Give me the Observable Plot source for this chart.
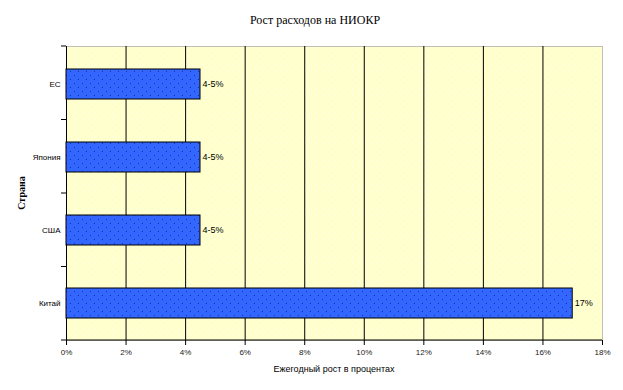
<!DOCTYPE html>
<html>
<head>
<meta charset="utf-8">
<script src="https://cdn.jsdelivr.net/npm/d3@7"></script>
<script src="https://cdn.jsdelivr.net/npm/@observablehq/plot@0.6"></script>
<style>
  html, body { margin: 0; padding: 0; background: #fff; }
  svg { display: block; }
</style>
</head>
<body>
<div id="chart"></div>
<script>
const countries = ["ЕС", "Япония", "США", "Китай"];
const growth = [4.5, 4.5, 4.5, 17];
const valueLabels = ["4-5%", "4-5%", "4-5%", "17%"];
const xTicks = [0, 2, 4, 6, 8, 10, 12, 14, 16, 18];
const title = "Рост расходов на НИОКР";
const xTitle = "Ежегодный рост в процентах";
const yTitle = "Страна";

const data = countries.map((c, i) => ({country: c, value: growth[i], label: valueLabels[i]}));

const plot = Plot.plot({
  width: 623,
  height: 390,
  marginLeft: 66,
  marginRight: 21,
  marginTop: 46,
  marginBottom: 50,
  style: {fontFamily: "Liberation Sans, Arial, sans-serif", background: "#fff"},
  x: {domain: [0, 18], ticks: xTicks, tickFormat: d => d + "%", label: null, tickSize: 5},
  y: {domain: countries, paddingInner: 0.59, paddingOuter: 0.295, label: null, tickSize: 0},
  marks: [
    Plot.frame({fill: "url(#bgdots)", stroke: "#808080", strokeDasharray: "1,1"}),
    Plot.ruleX(xTicks.filter(d => d > 0 && d < 18), {stroke: "#000", strokeWidth: 1}),
    Plot.ruleX([0], {stroke: "#000", strokeWidth: 1}),
    Plot.barX(data, {y: "country", x: "value", fill: "url(#bardots)", stroke: "#000", strokeWidth: 1}),
    Plot.text(data, {y: "country", x: "value", text: "label", textAnchor: "start", dx: 2, fontSize: 9, fill: "#000"}),
    Plot.axisX({ticks: xTicks, tickFormat: d => d + "%", tickSize: 5, fontSize: 8, tickPadding: 4, label: null, stroke: "#000", color: "#222"}),
    Plot.axisY({tickSize: 0, tickPadding: 6, fontSize: 8, label: null, color: "#000"})
  ]
});

document.getElementById("chart").appendChild(plot);

const svg = d3.select(plot);
const defs = svg.insert("defs", ":first-child");
const bg = defs.append("pattern").attr("id", "bgdots").attr("patternUnits", "userSpaceOnUse")
  .attr("width", 6).attr("height", 6);
bg.append("rect").attr("width", 6).attr("height", 6).attr("fill", "#ffffcc");
bg.append("rect").attr("x", 1).attr("y", 1).attr("width", 1).attr("height", 1).attr("fill", "#ffffff");
bg.append("rect").attr("x", 4).attr("y", 4).attr("width", 1).attr("height", 1).attr("fill", "#ffffff");
const bd = defs.append("pattern").attr("id", "bardots").attr("patternUnits", "userSpaceOnUse")
  .attr("width", 8).attr("height", 8);
bd.append("rect").attr("width", 8).attr("height", 8).attr("fill", "#3366ff");
bd.append("rect").attr("x", 2).attr("y", 3).attr("width", 1).attr("height", 1).attr("fill", "#1a3399");
bd.append("rect").attr("x", 6).attr("y", 7).attr("width", 1).attr("height", 1).attr("fill", "#1a3399");

const xs = plot.scale("x");
const ys = plot.scale("y");
const x0 = xs.apply(0), x1 = xs.apply(18);
const [yTop, yBot] = ys.range;
// bottom axis line
svg.append("line").attr("x1", x0).attr("x2", x1).attr("y1", yBot).attr("y2", yBot)
  .attr("stroke", "#000").attr("stroke-width", 1);
// category boundary ticks on y axis
const step = (yBot - yTop) / countries.length;
for (let i = 0; i <= countries.length; i++) {
  const yy = yTop + i * step;
  svg.append("line").attr("x1", x0 - 5).attr("x2", x0).attr("y1", yy).attr("y2", yy)
    .attr("stroke", "#000").attr("stroke-width", 1);
}
// titles
svg.append("text").attr("x", (x0 + x1) / 2 - 19).attr("y", 24).attr("text-anchor", "middle")
  .attr("font-family", "Liberation Serif, Times New Roman, serif").attr("font-size", 12).attr("fill", "#000")
  .text(title);
svg.append("text").attr("x", (x0 + x1) / 2).attr("y", 372).attr("text-anchor", "middle")
  .attr("font-family", "Liberation Sans, Arial, sans-serif").attr("font-size", 9).attr("fill", "#000")
  .text(xTitle);
svg.append("text").attr("transform", `translate(25,${(yTop + yBot) / 2}) rotate(-90)`).attr("text-anchor", "middle")
  .attr("font-family", "Liberation Serif, Times New Roman, serif").attr("font-size", 10).attr("font-weight", "bold").attr("fill", "#000")
  .text(yTitle);
</script>
</body>
</html>
